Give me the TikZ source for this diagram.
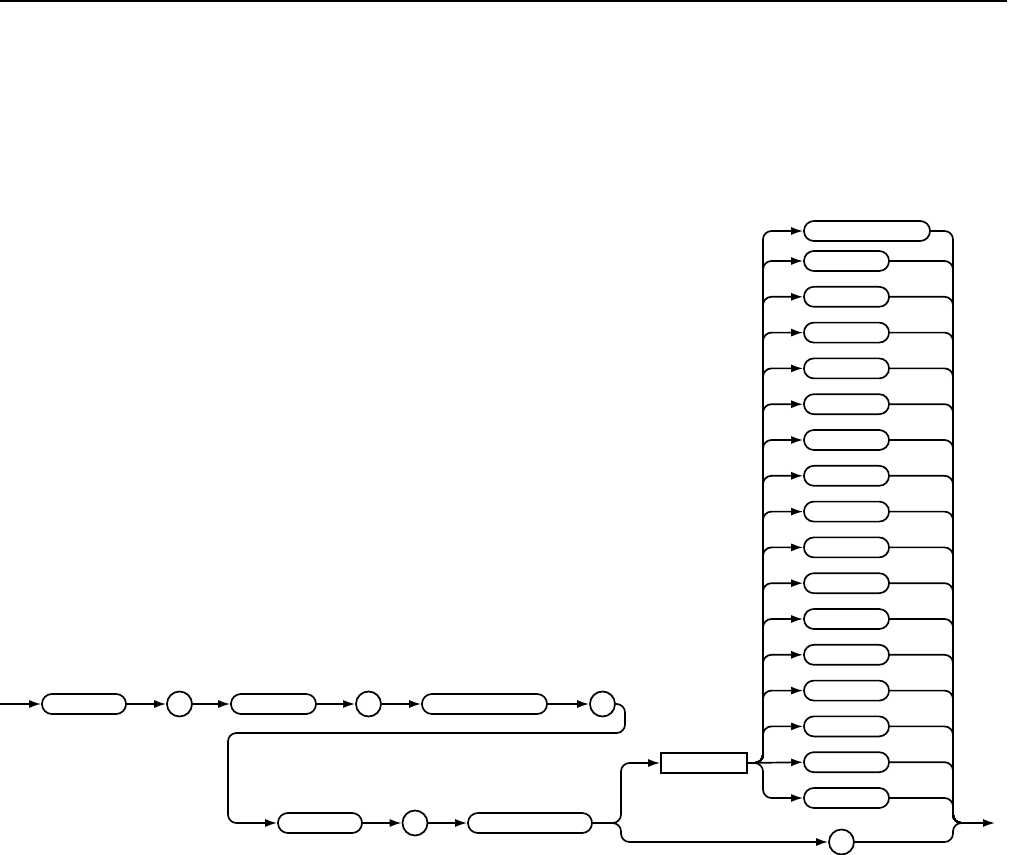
\documentclass[tikz,border=0pt]{standalone}
\usetikzlibrary{arrows.meta}
\begin{document}
\begin{tikzpicture}[x=0.025cm,y=-0.025cm,line width=1.2pt,
  kw/.style={draw,rounded corners=7pt,minimum height=0.5cm,inner sep=0pt},
  sq/.style={draw,minimum height=0.5cm,inner sep=0pt},
  sym/.style={draw,circle,minimum size=0.625cm,inner sep=0pt},
  flow/.style={-{Latex[length=0.3cm,width=0.2cm]},rounded corners=6pt},
  merge/.style={rounded corners=6pt}]
\useasboundingbox (0,0) rectangle (1009,855);
\draw (0,1)--(1007,1);
\coordinate (in) at (0,704);
\node[kw,minimum width=2.1cm] (kwA) at (84,704) {};
\node[sym] (symA) at (179.5,704) {};
\node[kw,minimum width=2.125cm] (kwB) at (273.5,704) {};
\node[sym] (symB) at (368.5,704) {};
\node[kw,minimum width=3.125cm] (kwC) at (484.5,704) {};
\node[sym] (symC) at (602.5,704) {};
\coordinate (wrapA) at (625,733);
\coordinate (wrapB) at (228,733);
\node[kw,minimum width=2.1cm] (kwD) at (320,823) {};
\node[sym] (symD) at (415,823) {};
\node[kw,minimum width=3.1cm] (kwE) at (530,823) {};
\coordinate (splitA) at (621,823);
\node[sq,minimum width=2.15cm] (sel) at (704,763) {};
\node[sym] (symE) at (841.5,842) {};
\coordinate (splitB) at (763,763);
\coordinate (joinR) at (953,823);
\coordinate (joinE) at (965,823);
\coordinate (out) at (995,823);
\node[kw,minimum width=3.15cm] (optT) at (867,231) {};
\foreach \k in {0,...,15}
  \node[kw,minimum width=2.125cm] (opt\k) at (846.5,261+35.8*\k) {};
\draw[flow] (in)--(kwA.west);
\draw[flow] (kwA.east)--(symA.west);
\draw[flow] (symA.east)--(kwB.west);
\draw[flow] (kwB.east)--(symB.west);
\draw[flow] (symB.east)--(kwC.west);
\draw[flow] (kwC.east)--(symC.west);
\draw[flow] (symC.east)-|(wrapA)--(wrapB)|-(kwD.west);
\draw[flow] (kwD.east)--(symD.west);
\draw[flow] (symD.east)--(kwE.west);
\draw[flow] (kwE.east)--(splitA)|-(sel.west);
\draw[flow] (kwE.east)--(splitA)|-(symE.west);
\draw[flow] (sel.east)--(splitB)|-(optT.west);
\foreach \k in {0,...,13,15}
  \draw[flow] (sel.east)--(splitB)|-(opt\k.west);
\draw[flow] (sel.east)--(opt14.west);
\draw[merge] (optT.east)-|(joinR)--(joinE);
\foreach \k in {0,...,15}
  \draw[merge] (opt\k.east)-|(joinR)--(joinE);
\draw[merge] (symE.east)-|(joinR)--(joinE);
\draw[flow] (joinE)--(out);
\end{tikzpicture}
\end{document}
